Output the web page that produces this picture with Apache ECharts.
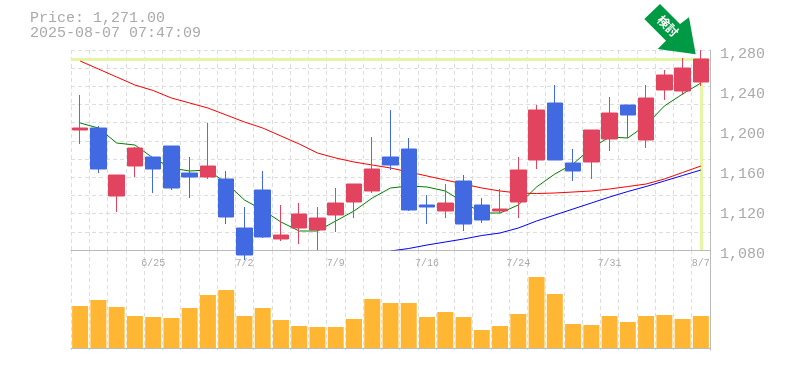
<!DOCTYPE html>
<html><head><meta charset="utf-8">
<style>html,body{margin:0;padding:0;background:#fff}#c{width:785px;height:370px}</style>
<script src="https://cdn.jsdelivr.net/npm/echarts@6/dist/echarts.min.js"></script>
</head><body><div id="c"></div>
<script>
const dates = ['6/19','6/20','6/23','6/24','6/25','6/26','6/27','6/30','7/1','7/2','7/3','7/4','7/7','7/8','7/9','7/10','7/11','7/14','7/15','7/16','7/17','7/18','7/22','7/23','7/24','7/25','7/28','7/29','7/30','7/31','8/1','8/4','8/5','8/6','8/7'];
const opens  = [1200,1202,1134,1164,1173,1184,1157,1153,1151,1102,1140,1091,1102,1100,1115,1128,1139,1173,1181,1125,1119,1149,1125,1119,1128,1170,1227,1167,1168,1191,1225,1190,1240,1239,1248];
const closes = [1202,1161,1155,1182,1161,1142,1153,1164,1113,1075,1093,1095,1116,1112,1127,1146,1161,1165,1120,1123,1127,1106,1110,1121,1160,1220,1170,1159,1200,1217,1215,1232,1255,1262,1271];
const lows   = [1186,1157,1118,1153,1137,1140,1132,1151,1106,1070,1092,1089,1086,1080,1098,1112,1137,1160,1119,1106,1112,1099,1107,1117,1112,1161,1170,1149,1151,1179,1192,1182,1230,1235,1244];
const highs  = [1235,1204,1155,1183,1173,1184,1173,1207,1159,1123,1159,1125,1127,1123,1142,1146,1193,1220,1192,1135,1146,1155,1132,1141,1173,1225,1245,1181,1200,1233,1225,1245,1260,1272,1280];
const maShort = [1207,1202,1187,1185,1172,1162,1159,1160,1147,1130,1120,1108,1099,1099,1109,1119,1132,1142,1144,1143,1139,1128,1117,1117,1125,1143,1156,1166,1182,1193,1192,1205,1224,1236,1247];
const maMid = [1269,1261,1253,1245,1239.5,1232,1227,1222,1215,1208,1202,1194,1186,1177,1172,1168,1165,1162,1158,1154,1150,1146,1142,1139,1137,1136.5,1137,1138,1139,1141,1143.5,1146,1151,1157.5,1164];
const maLong = [null,null,null,null,null,null,null,null,null,null,null,null,null,null,null,null,null,1079,1081.5,1085,1088,1091,1094.5,1097,1102,1109,1115,1121,1127,1133,1138.5,1143.5,1149,1154.5,1160];
const volumes = [42,48,41,32,31,30,40,53,58,32,40,28,22,21,21,29,49,45,45,31,36,31,18,22,34,71,54,24,23,32,26,32,33,29,32];
const lastPrice = 1271;
const headerLines = ['Price: 1,271.00','2025-08-07 07:47:09'];
const arrowLabel = '検討';

const grey = '#aaaaaa', axisGrey = '#bbbbbb', gridGrey = '#dddddd', mono = '"Liberation Mono", monospace';
const dashed = {color: gridGrey, type: [4,3], width: 1};
const GL = 71, GW = 639;
const chart = echarts.init(document.getElementById('c'), null, {renderer:'canvas'});
chart.setOption({
  animation:false, backgroundColor:'#fff',
  title:{text:headerLines.join('\n'), left:30, top:11, padding:0, textStyle:{fontFamily:mono,fontSize:15,fontWeight:'normal',color:grey,lineHeight:15}},
  grid:[
    {left:GL, top:50, width:GW, height:200},
    {left:GL, top:250, width:GW, height:100}
  ],
  xAxis:[
    {type:'category', gridIndex:0, data:dates, boundaryGap:true,
     axisLine:{show:true,lineStyle:{color:axisGrey,width:1}}, axisTick:{show:false},
     axisLabel:{show:true, interval:(i)=>i%5===4, fontFamily:mono, fontSize:10, color:grey, margin:8, hideOverlap:false},
     splitLine:{show:true, interval:0, lineStyle:dashed}},
    {type:'category', gridIndex:1, data:dates, boundaryGap:true,
     axisLine:{show:true,lineStyle:{color:axisGrey,width:1}}, axisTick:{show:false}, axisLabel:{show:false},
     splitLine:{show:true, interval:0, lineStyle:dashed}}
  ],
  yAxis:[
    {type:'value', gridIndex:0, position:'right', min:1080, max:1280, interval:40, scale:true,
     axisLine:{show:true,lineStyle:{color:axisGrey,width:1}}, axisTick:{show:false}, splitLine:{show:false},
     axisLabel:{fontFamily:mono, fontSize:15, color:grey, margin:10, verticalAlign:'top', lineHeight:8,
       formatter:(v)=>v.toLocaleString('en-US')}},
    {type:'value', gridIndex:0, position:'left', min:0, max:11, interval:1,
     axisLine:{show:false}, axisTick:{show:false}, axisLabel:{show:false},
     splitLine:{show:true, lineStyle:dashed}},
    {type:'value', gridIndex:1, position:'right', min:-2, max:98,
     axisLine:{show:true,lineStyle:{color:axisGrey,width:1}}, axisTick:{show:false}, axisLabel:{show:false}, splitLine:{show:false}}
  ],
  series:[
    {type:'line', name:'long', xAxisIndex:0, yAxisIndex:0, data:maLong, showSymbol:false, z:3, clip:true,
     lineStyle:{color:'#0000ff',width:1}, connectNulls:false,
     markLine:{silent:true, symbol:'none', label:{show:false}, z:1, animation:false,
       lineStyle:{color:'#e4f5a5',width:3,type:'solid'},
       data:[{yAxis:lastPrice},[{coord:[dates[dates.length-1],lastPrice]},{coord:[dates[dates.length-1],1080]}]]}},
    {type:'line', name:'mid', xAxisIndex:0, yAxisIndex:0, data:maMid, showSymbol:false, z:3, lineStyle:{color:'#ff0000',width:1}},
    {type:'line', name:'short', xAxisIndex:0, yAxisIndex:0, data:maShort, showSymbol:false, z:3, lineStyle:{color:'#008000',width:1}},
    {type:'candlestick', xAxisIndex:0, yAxisIndex:0, z:4, barWidth:16, clip:true,
     data:dates.map((d,i)=>[opens[i],closes[i],lows[i],highs[i]]),
     itemStyle:{color:'#e2435f',color0:'#4169e1',borderColor:'#e2435f',borderColor0:'#4169e1',borderWidth:1}},
    {type:'bar', xAxisIndex:1, yAxisIndex:2, data:volumes, barWidth:16, itemStyle:{color:'#ffb733'}}
  ],
  graphic:[
    {type:'polygon', z:50, shape:{points:[[660,4],[680,24],[689,17.3],[695.7,54.3],[657.7,49],[666,40.7],[644.3,19]]}, style:{fill:'#009944'}},
    {type:'text', z:51, x:668, y:26, rotation:-Math.PI/4,
     style:{text:arrowLabel, fill:'#fff', font:'bold 12px "Noto Sans CJK JP"', textAlign:'center', textVerticalAlign:'middle'}}
  ]
});
</script></body></html>
